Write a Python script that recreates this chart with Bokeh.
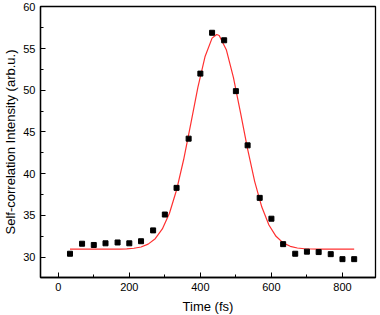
from bokeh.plotting import figure
from bokeh.models import SingleIntervalTicker, Range1d
from bokeh.embed import file_html
from bokeh.resources import INLINE

# Measured points (fs, arb.u.)
time_fs = [33, 67, 100, 133, 167, 200, 233, 267, 300, 333, 367, 400, 433,
           467, 500, 533, 567, 600, 633, 667, 700, 733, 767, 800, 833]
intensity = [30.4, 31.6, 31.45, 31.65, 31.75, 31.65, 31.9, 33.2, 35.1, 38.3,
             44.2, 52.0, 56.9, 56.0, 49.9, 43.4, 37.1, 34.6, 31.55, 30.4,
             30.65, 30.6, 30.35, 29.75, 29.75]

# Fitted curve
fit_time = [33, 53, 73, 93, 113, 133, 153, 173, 193, 213, 233, 253, 273, 293,
            313, 333, 353, 373, 393, 413, 433, 446, 453, 473, 493, 513, 533,
            553, 573, 593, 613, 633, 653, 673, 693, 713, 733, 753, 773, 793,
            813, 833]
fit_intensity = [30.95, 30.95, 30.95, 30.95, 30.95, 30.95, 30.95, 30.96, 30.99,
                 31.06, 31.21, 31.55, 32.20, 33.37, 35.26, 38.04, 41.70, 45.98,
                 50.34, 54.02, 56.26, 56.70, 56.57, 54.87, 51.55, 47.31, 42.94,
                 39.05, 36.00, 33.85, 32.49, 31.70, 31.29, 31.09, 31.00, 30.97,
                 30.96, 30.95, 30.95, 30.95, 30.95, 30.95]

x_label = "Time (fs)"
y_label = "Self-correlation Intensity (arb.u.)"

p = figure(frame_width=335, frame_height=271,
           output_backend="svg", toolbar_location=None,
           x_range=Range1d(-50, 893), y_range=Range1d(27.55, 60.05),
           min_border_left=30, min_border_right=4, min_border_top=6,
           min_border_bottom=37)

p.line(fit_time, fit_intensity, line_color="#ff3030", line_width=1.2)
p.scatter(time_fs, intensity, marker="square", size=5,
          fill_color="black", line_color="black")

p.xgrid.visible = False
p.ygrid.visible = False
p.background_fill_color = "white"
p.border_fill_color = "white"
p.outline_line_color = "black"
p.outline_line_width = 1.3

p.xaxis.ticker = SingleIntervalTicker(interval=200, num_minor_ticks=2)
p.yaxis.ticker = SingleIntervalTicker(interval=5, num_minor_ticks=2)
p.xaxis.axis_label = x_label
p.yaxis.axis_label = y_label

for ax in (p.xaxis, p.yaxis):
    ax.axis_line_color = "black"
    ax.axis_line_width = 1.3
    ax.major_tick_in = 5
    ax.major_tick_out = 0
    ax.minor_tick_in = 3
    ax.minor_tick_out = 0
    ax.major_tick_line_color = "black"
    ax.minor_tick_line_color = "black"
    ax.major_label_text_font = "Liberation Sans"
    ax.major_label_text_font_size = "11px"
    ax.major_label_text_color = "black"
    ax.axis_label_text_font = "Liberation Sans"
    ax.axis_label_text_font_size = "13px"
    ax.axis_label_text_font_style = "normal"
    ax.axis_label_text_color = "black"

p.xaxis.major_label_standoff = 5
p.xaxis.axis_label_standoff = 5
p.yaxis.major_label_standoff = 5
p.yaxis.axis_label_standoff = 2

open("out.html", "w").write(file_html(p, INLINE))
